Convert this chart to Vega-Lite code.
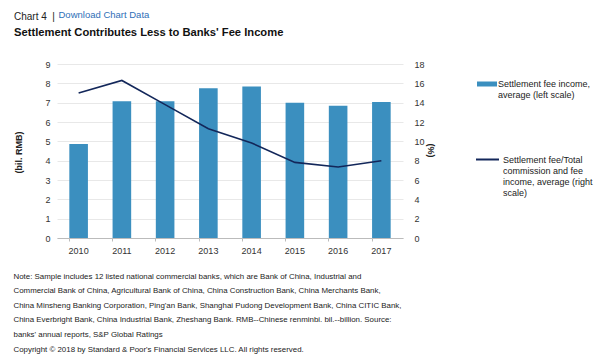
{
  "$schema": "https://vega.github.io/schema/vega-lite/v6.json",
  "width": 346,
  "height": 174,
  "autosize": "none",
  "padding": {"left": 57, "top": 64, "right": 197, "bottom": 122},
  "background": "white",
  "config": {
    "font": "Liberation Sans",
    "view": {"stroke": null},
    "axis": {"labelFont": "Liberation Sans", "titleFont": "Liberation Sans", "labelColor": "#333", "titleColor": "#222"},
    "legend": {"labelFont": "Liberation Sans"}
  },
  "title": {
    "text": "Chart 4\u00a0\u00a0|",
    "subtitle": "Settlement Contributes Less to Banks' Fee Income",
    "anchor": "start",
    "frame": "group",
    "dx": -43,
    "offset": -29,
    "font": "Liberation Sans",
    "fontSize": 10,
    "fontWeight": "normal",
    "color": "#222",
    "subtitleFont": "Liberation Sans",
    "subtitleFontSize": 11.2,
    "subtitleFontWeight": "bold",
    "subtitleColor": "#111",
    "subtitlePadding": 5
  },
  "data": {
    "values": [
      {"year": "2010", "income": 4.86, "ratio": 15.0},
      {"year": "2011", "income": 7.07, "ratio": 16.3},
      {"year": "2012", "income": 7.07, "ratio": 13.8},
      {"year": "2013", "income": 7.74, "ratio": 11.3},
      {"year": "2014", "income": 7.83, "ratio": 9.83},
      {"year": "2015", "income": 7.0, "ratio": 7.82},
      {"year": "2016", "income": 6.84, "ratio": 7.34},
      {"year": "2017", "income": 7.03, "ratio": 8.0}
    ]
  },
  "layer": [
    {
      "mark": {"type": "bar", "color": "#3b8fbf"},
      "encoding": {
        "x": {
          "field": "year", "type": "ordinal",
          "scale": {"paddingInner": 0.57, "paddingOuter": 0.285},
          "axis": {
            "title": [
              "Note: Sample includes 12 listed national commercial banks, which are Bank of China, Industrial and",
              "Commercial Bank of China, Agricultural Bank of China, China Construction Bank, China Merchants Bank,",
              "China Minsheng Banking Corporation, Ping'an Bank, Shanghai Pudong Development Bank, China CITIC Bank,",
              "China Everbright Bank, China Industrial Bank, Zheshang Bank. RMB--Chinese renminbi. bil.--billion. Source:",
              "banks' annual reports, S&P Global Ratings",
              "Copyright © 2018 by Standard & Poor's Financial Services LLC. All rights reserved."
            ],
            "titleAnchor": "start",
            "titleAlign": "left",
            "titleX": -44,
            "titleY": 34,
            "titleBaseline": "top",
            "titleFontSize": 7.9,
            "titleFontWeight": "normal",
            "titleColor": "#222",
            "titleLineHeight": 14.6,
            "labelAngle": 0,
            "labelFontSize": 9,
            "labelPadding": 5,
            "labelColor": "#333",
            "domainColor": "#bbb",
            "tickColor": "#bbb",
            "tickSize": 3,
            "bandPosition": 0,
            "grid": false
          }
        },
        "y": {
          "field": "income", "type": "quantitative",
          "scale": {"domain": [0, 9], "nice": false},
          "axis": {
            "values": [0, 1, 2, 3, 4, 5, 6, 7, 8, 9],
            "title": "(bil. RMB)",
            "titleFontSize": 9,
            "titleFontWeight": "bold",
            "titleX": -39,
            "titleY": 88,
            "titleAngle": -90,
            "titleBaseline": "middle",
            "titleAlign": "center",
            "labelFontSize": 9,
            "labelPadding": 7,
            "domain": false,
            "ticks": false,
            "grid": true,
            "gridColor": "#e8e8e8"
          }
        },
        "fill": {
          "datum": "income",
          "scale": {"range": ["#3b8fbf"]},
          "legend": {
            "title": null,
            "orient": "none",
            "legendX": 420,
            "legendY": 10,
            "symbolType": "M-1,-0.25H1V0.25H-1Z",
            "symbolSize": 400,
            "symbolStrokeWidth": 0,
            "labelExpr": "['Settlement fee income,', 'average (left scale)']",
            "labelFontSize": 9,
            "labelColor": "#222",
            "labelOffset": 1,
            "labelBaseline": "middle",
            "labelLimit": 200
          }
        }
      }
    },
    {
      "mark": {"type": "line", "color": "#13275a", "strokeWidth": 1.6},
      "encoding": {
        "x": {
          "field": "year", "type": "ordinal",
          "axis": {
            "orient": "top",
            "labels": false,
            "ticks": false,
            "domain": false,
            "grid": false,
            "title": "Download Chart Data",
            "titleAnchor": "start",
            "titleAlign": "left",
            "titleX": 1,
            "titleY": -50,
            "titleBaseline": "middle",
            "titleFontSize": 9.5,
            "titleFontWeight": "normal",
            "titleColor": "#2f6fb7"
          }
        },
        "y": {
          "field": "ratio", "type": "quantitative",
          "scale": {"domain": [0, 18], "nice": false},
          "axis": {
            "orient": "right",
            "values": [0, 2, 4, 6, 8, 10, 12, 14, 16, 18],
            "title": "(%)",
            "titleFontSize": 9,
            "titleFontWeight": "bold",
            "titleX": 27,
            "titleY": 86,
            "titleAngle": 90,
            "titleBaseline": "middle",
            "titleAlign": "center",
            "labelFontSize": 9,
            "labelPadding": 11,
            "domain": false,
            "ticks": false,
            "grid": false
          }
        },
        "stroke": {
          "datum": "ratio",
          "scale": {"range": ["#13275a"]},
          "legend": {
            "title": null,
            "orient": "none",
            "legendX": 418,
            "legendY": 83,
            "symbolType": "stroke",
            "symbolSize": 529,
            "symbolStrokeWidth": 2,
            "labelExpr": "['Settlement fee/Total', 'commission and fee', 'income, average (right', 'scale)']",
            "labelFontSize": 9,
            "labelColor": "#222",
            "labelOffset": 3,
            "labelBaseline": "middle",
            "labelLimit": 200
          }
        }
      }
    }
  ],
  "resolve": {"scale": {"y": "independent", "fill": "independent", "stroke": "independent"}, "axis": {"x": "independent"}}
}
